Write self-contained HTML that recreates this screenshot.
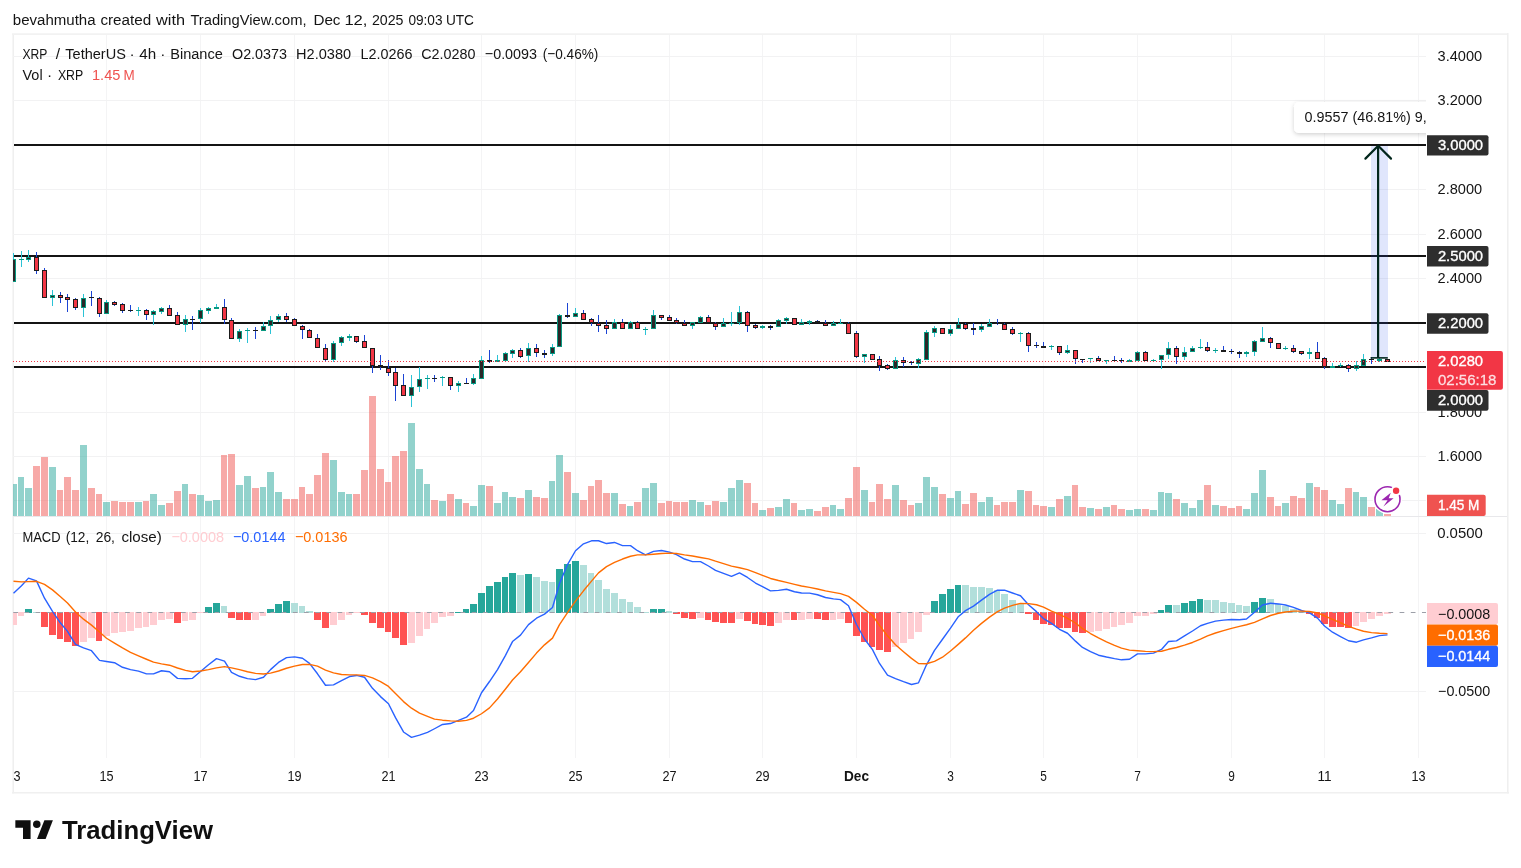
<!DOCTYPE html>
<html><head><meta charset="utf-8"><title>XRP / TetherUS chart</title>
<style>html,body{margin:0;padding:0;background:#fff}body{width:1521px;height:868px;overflow:hidden}
svg{display:block;opacity:0.999}text{font-family:"Liberation Sans",Arial,sans-serif;white-space:pre}</style></head>
<body><svg width="1521" height="868" viewBox="0 0 1521 868">
<rect width="1521" height="868" fill="#fff"/>
<rect x="12" y="33" width="1" height="760.7" fill="#f6f6f6"/><rect x="13" y="33" width="1" height="760.7" fill="#efefef"/><rect x="12" y="33" width="1497" height="1" fill="#f5f5f5"/><rect x="12" y="34" width="1497" height="1" fill="#f2f2f2"/><rect x="1507" y="33" width="1" height="760.7" fill="#efefef"/><rect x="1508" y="33" width="1" height="760.7" fill="#f6f6f6"/><rect x="12" y="792" width="1497" height="1" fill="#f0f0f0"/><rect x="12" y="793" width="1497" height="0.7" fill="#f4f4f4"/><g id="grid"><rect x="106" y="35" width="1" height="723" fill="#f4f4f5" shape-rendering="crispEdges"/><rect x="200" y="35" width="1" height="723" fill="#f4f4f5" shape-rendering="crispEdges"/><rect x="294" y="35" width="1" height="723" fill="#f4f4f5" shape-rendering="crispEdges"/><rect x="388" y="35" width="1" height="723" fill="#f4f4f5" shape-rendering="crispEdges"/><rect x="481" y="35" width="1" height="723" fill="#f4f4f5" shape-rendering="crispEdges"/><rect x="575" y="35" width="1" height="723" fill="#f4f4f5" shape-rendering="crispEdges"/><rect x="669" y="35" width="1" height="723" fill="#f4f4f5" shape-rendering="crispEdges"/><rect x="762" y="35" width="1" height="723" fill="#f4f4f5" shape-rendering="crispEdges"/><rect x="856" y="35" width="1" height="723" fill="#f4f4f5" shape-rendering="crispEdges"/><rect x="950" y="35" width="1" height="723" fill="#f4f4f5" shape-rendering="crispEdges"/><rect x="1043" y="35" width="1" height="723" fill="#f4f4f5" shape-rendering="crispEdges"/><rect x="1137" y="35" width="1" height="723" fill="#f4f4f5" shape-rendering="crispEdges"/><rect x="1231" y="35" width="1" height="723" fill="#f4f4f5" shape-rendering="crispEdges"/><rect x="1324" y="35" width="1" height="723" fill="#f4f4f5" shape-rendering="crispEdges"/><rect x="1418" y="35" width="1" height="723" fill="#f4f4f5" shape-rendering="crispEdges"/><rect x="13" y="56" width="1413" height="1" fill="#f2f2f3" shape-rendering="crispEdges"/><rect x="13" y="100" width="1413" height="1" fill="#f2f2f3" shape-rendering="crispEdges"/><rect x="13" y="144" width="1413" height="1" fill="#f2f2f3" shape-rendering="crispEdges"/><rect x="13" y="189" width="1413" height="1" fill="#f2f2f3" shape-rendering="crispEdges"/><rect x="13" y="234" width="1413" height="1" fill="#f2f2f3" shape-rendering="crispEdges"/><rect x="13" y="278" width="1413" height="1" fill="#f2f2f3" shape-rendering="crispEdges"/><rect x="13" y="322" width="1413" height="1" fill="#f2f2f3" shape-rendering="crispEdges"/><rect x="13" y="367" width="1413" height="1" fill="#f2f2f3" shape-rendering="crispEdges"/><rect x="13" y="412" width="1413" height="1" fill="#f2f2f3" shape-rendering="crispEdges"/><rect x="13" y="456" width="1413" height="1" fill="#f2f2f3" shape-rendering="crispEdges"/><rect x="13" y="500" width="1413" height="1" fill="#f2f2f3" shape-rendering="crispEdges"/><rect x="13" y="533" width="1413" height="1" fill="#f2f2f3" shape-rendering="crispEdges"/><rect x="13" y="691" width="1413" height="1" fill="#f2f2f3" shape-rendering="crispEdges"/></g><rect x="13" y="516" width="1494" height="1" fill="#e8e8eb" shape-rendering="crispEdges"/><g id="vol"><g shape-rendering="crispEdges" fill-opacity="0.5"><rect x="13" y="484" width="4" height="32" fill="#26a69a"/><rect x="18" y="477" width="6" height="39" fill="#26a69a"/><rect x="25" y="488" width="7" height="28" fill="#26a69a"/><rect x="33" y="466" width="7" height="50" fill="#ef5350"/><rect x="41" y="457" width="7" height="59" fill="#ef5350"/><rect x="49" y="467" width="7" height="49" fill="#26a69a"/><rect x="57" y="490" width="6" height="26" fill="#ef5350"/><rect x="64" y="477" width="7" height="39" fill="#ef5350"/><rect x="72" y="490" width="7" height="26" fill="#ef5350"/><rect x="80" y="445" width="7" height="71" fill="#26a69a"/><rect x="88" y="488" width="7" height="28" fill="#ef5350"/><rect x="96" y="494" width="6" height="22" fill="#ef5350"/><rect x="103" y="502" width="7" height="14" fill="#26a69a"/><rect x="111" y="501" width="7" height="15" fill="#ef5350"/><rect x="119" y="502" width="7" height="14" fill="#ef5350"/><rect x="127" y="502" width="7" height="14" fill="#ef5350"/><rect x="135" y="502" width="7" height="14" fill="#26a69a"/><rect x="143" y="501" width="6" height="15" fill="#ef5350"/><rect x="150" y="494" width="7" height="22" fill="#26a69a"/><rect x="158" y="505" width="7" height="11" fill="#26a69a"/><rect x="166" y="503" width="7" height="13" fill="#ef5350"/><rect x="174" y="491" width="7" height="25" fill="#ef5350"/><rect x="182" y="484" width="6" height="32" fill="#26a69a"/><rect x="189" y="494" width="7" height="22" fill="#ef5350"/><rect x="197" y="495" width="7" height="21" fill="#26a69a"/><rect x="205" y="501" width="7" height="15" fill="#26a69a"/><rect x="213" y="500" width="7" height="16" fill="#26a69a"/><rect x="221" y="455" width="6" height="61" fill="#ef5350"/><rect x="228" y="454" width="7" height="62" fill="#ef5350"/><rect x="236" y="485" width="7" height="31" fill="#26a69a"/><rect x="244" y="476" width="7" height="40" fill="#26a69a"/><rect x="252" y="488" width="7" height="28" fill="#ef5350"/><rect x="260" y="487" width="6" height="29" fill="#26a69a"/><rect x="267" y="472" width="7" height="44" fill="#26a69a"/><rect x="275" y="492" width="7" height="24" fill="#26a69a"/><rect x="283" y="499" width="7" height="17" fill="#ef5350"/><rect x="291" y="499" width="7" height="17" fill="#ef5350"/><rect x="299" y="487" width="6" height="29" fill="#ef5350"/><rect x="306" y="494" width="7" height="22" fill="#ef5350"/><rect x="314" y="475" width="7" height="41" fill="#ef5350"/><rect x="322" y="453" width="7" height="63" fill="#ef5350"/><rect x="330" y="460" width="7" height="56" fill="#26a69a"/><rect x="338" y="492" width="7" height="24" fill="#26a69a"/><rect x="346" y="494" width="6" height="22" fill="#26a69a"/><rect x="353" y="494" width="7" height="22" fill="#ef5350"/><rect x="361" y="470" width="7" height="46" fill="#ef5350"/><rect x="369" y="396" width="7" height="120" fill="#ef5350"/><rect x="377" y="469" width="7" height="47" fill="#ef5350"/><rect x="385" y="482" width="6" height="34" fill="#ef5350"/><rect x="392" y="456" width="7" height="60" fill="#ef5350"/><rect x="400" y="451" width="7" height="65" fill="#ef5350"/><rect x="408" y="423" width="7" height="93" fill="#26a69a"/><rect x="416" y="469" width="7" height="47" fill="#26a69a"/><rect x="424" y="484" width="6" height="32" fill="#26a69a"/><rect x="431" y="500" width="7" height="16" fill="#ef5350"/><rect x="439" y="501" width="7" height="15" fill="#26a69a"/><rect x="447" y="494" width="7" height="22" fill="#ef5350"/><rect x="455" y="499" width="7" height="17" fill="#26a69a"/><rect x="463" y="503" width="6" height="13" fill="#ef5350"/><rect x="470" y="506" width="7" height="10" fill="#26a69a"/><rect x="478" y="485" width="7" height="31" fill="#26a69a"/><rect x="486" y="486" width="7" height="30" fill="#ef5350"/><rect x="494" y="503" width="7" height="13" fill="#26a69a"/><rect x="502" y="492" width="6" height="24" fill="#26a69a"/><rect x="509" y="497" width="7" height="19" fill="#26a69a"/><rect x="517" y="498" width="7" height="18" fill="#ef5350"/><rect x="525" y="490" width="7" height="26" fill="#26a69a"/><rect x="533" y="497" width="7" height="19" fill="#ef5350"/><rect x="541" y="498" width="7" height="18" fill="#ef5350"/><rect x="549" y="481" width="6" height="35" fill="#26a69a"/><rect x="556" y="455" width="7" height="61" fill="#26a69a"/><rect x="564" y="472" width="7" height="44" fill="#ef5350"/><rect x="572" y="493" width="7" height="23" fill="#26a69a"/><rect x="580" y="500" width="7" height="16" fill="#ef5350"/><rect x="588" y="486" width="6" height="30" fill="#ef5350"/><rect x="595" y="480" width="7" height="36" fill="#ef5350"/><rect x="603" y="493" width="7" height="23" fill="#ef5350"/><rect x="611" y="493" width="7" height="23" fill="#26a69a"/><rect x="619" y="504" width="7" height="12" fill="#ef5350"/><rect x="627" y="506" width="6" height="10" fill="#26a69a"/><rect x="634" y="502" width="7" height="14" fill="#ef5350"/><rect x="642" y="488" width="7" height="28" fill="#26a69a"/><rect x="650" y="483" width="7" height="33" fill="#26a69a"/><rect x="658" y="503" width="7" height="13" fill="#ef5350"/><rect x="666" y="501" width="6" height="15" fill="#ef5350"/><rect x="673" y="502" width="7" height="14" fill="#ef5350"/><rect x="681" y="502" width="7" height="14" fill="#ef5350"/><rect x="689" y="500" width="7" height="16" fill="#26a69a"/><rect x="697" y="502" width="7" height="14" fill="#26a69a"/><rect x="705" y="505" width="6" height="11" fill="#ef5350"/><rect x="712" y="501" width="7" height="15" fill="#ef5350"/><rect x="720" y="502" width="7" height="14" fill="#26a69a"/><rect x="728" y="488" width="7" height="28" fill="#26a69a"/><rect x="736" y="480" width="7" height="36" fill="#26a69a"/><rect x="744" y="483" width="7" height="33" fill="#ef5350"/><rect x="752" y="503" width="6" height="13" fill="#ef5350"/><rect x="759" y="510" width="7" height="6" fill="#26a69a"/><rect x="767" y="508" width="7" height="8" fill="#ef5350"/><rect x="775" y="507" width="7" height="9" fill="#26a69a"/><rect x="783" y="499" width="7" height="17" fill="#26a69a"/><rect x="791" y="503" width="6" height="13" fill="#ef5350"/><rect x="798" y="510" width="7" height="6" fill="#26a69a"/><rect x="806" y="509" width="7" height="7" fill="#26a69a"/><rect x="814" y="511" width="7" height="5" fill="#ef5350"/><rect x="822" y="507" width="7" height="9" fill="#ef5350"/><rect x="830" y="505" width="6" height="11" fill="#26a69a"/><rect x="837" y="509" width="7" height="7" fill="#26a69a"/><rect x="845" y="498" width="7" height="18" fill="#ef5350"/><rect x="853" y="467" width="7" height="49" fill="#ef5350"/><rect x="861" y="490" width="7" height="26" fill="#26a69a"/><rect x="869" y="502" width="6" height="14" fill="#ef5350"/><rect x="876" y="484" width="7" height="32" fill="#ef5350"/><rect x="884" y="499" width="7" height="17" fill="#ef5350"/><rect x="892" y="485" width="7" height="31" fill="#26a69a"/><rect x="900" y="500" width="7" height="16" fill="#ef5350"/><rect x="908" y="505" width="6" height="11" fill="#ef5350"/><rect x="915" y="503" width="7" height="13" fill="#26a69a"/><rect x="923" y="477" width="7" height="39" fill="#26a69a"/><rect x="931" y="487" width="7" height="29" fill="#26a69a"/><rect x="939" y="494" width="7" height="22" fill="#ef5350"/><rect x="947" y="498" width="7" height="18" fill="#26a69a"/><rect x="955" y="491" width="6" height="25" fill="#26a69a"/><rect x="962" y="504" width="7" height="12" fill="#ef5350"/><rect x="970" y="493" width="7" height="23" fill="#ef5350"/><rect x="978" y="502" width="7" height="14" fill="#26a69a"/><rect x="986" y="497" width="7" height="19" fill="#26a69a"/><rect x="994" y="505" width="6" height="11" fill="#ef5350"/><rect x="1001" y="502" width="7" height="14" fill="#ef5350"/><rect x="1009" y="502" width="7" height="14" fill="#ef5350"/><rect x="1017" y="490" width="7" height="26" fill="#26a69a"/><rect x="1025" y="491" width="7" height="25" fill="#ef5350"/><rect x="1033" y="505" width="6" height="11" fill="#ef5350"/><rect x="1040" y="506" width="7" height="10" fill="#ef5350"/><rect x="1048" y="507" width="7" height="9" fill="#26a69a"/><rect x="1056" y="499" width="7" height="17" fill="#ef5350"/><rect x="1064" y="496" width="7" height="20" fill="#26a69a"/><rect x="1072" y="485" width="6" height="31" fill="#ef5350"/><rect x="1079" y="507" width="7" height="9" fill="#ef5350"/><rect x="1087" y="508" width="7" height="8" fill="#26a69a"/><rect x="1095" y="509" width="7" height="7" fill="#ef5350"/><rect x="1103" y="507" width="7" height="9" fill="#26a69a"/><rect x="1111" y="505" width="6" height="11" fill="#ef5350"/><rect x="1118" y="509" width="7" height="7" fill="#ef5350"/><rect x="1126" y="510" width="7" height="6" fill="#26a69a"/><rect x="1134" y="509" width="7" height="7" fill="#26a69a"/><rect x="1142" y="509" width="7" height="7" fill="#ef5350"/><rect x="1150" y="510" width="7" height="6" fill="#26a69a"/><rect x="1158" y="492" width="6" height="24" fill="#26a69a"/><rect x="1165" y="493" width="7" height="23" fill="#26a69a"/><rect x="1173" y="499" width="7" height="17" fill="#ef5350"/><rect x="1181" y="503" width="7" height="13" fill="#26a69a"/><rect x="1189" y="508" width="7" height="8" fill="#26a69a"/><rect x="1197" y="500" width="6" height="16" fill="#26a69a"/><rect x="1204" y="485" width="7" height="31" fill="#ef5350"/><rect x="1212" y="505" width="7" height="11" fill="#26a69a"/><rect x="1220" y="506" width="7" height="10" fill="#ef5350"/><rect x="1228" y="508" width="7" height="8" fill="#ef5350"/><rect x="1236" y="506" width="6" height="10" fill="#ef5350"/><rect x="1243" y="509" width="7" height="7" fill="#26a69a"/><rect x="1251" y="493" width="7" height="23" fill="#26a69a"/><rect x="1259" y="470" width="7" height="46" fill="#26a69a"/><rect x="1267" y="497" width="7" height="19" fill="#ef5350"/><rect x="1275" y="506" width="6" height="10" fill="#ef5350"/><rect x="1282" y="503" width="7" height="13" fill="#26a69a"/><rect x="1290" y="496" width="7" height="20" fill="#ef5350"/><rect x="1298" y="498" width="7" height="18" fill="#ef5350"/><rect x="1306" y="483" width="7" height="33" fill="#26a69a"/><rect x="1314" y="487" width="6" height="29" fill="#ef5350"/><rect x="1321" y="490" width="7" height="26" fill="#ef5350"/><rect x="1329" y="500" width="7" height="16" fill="#26a69a"/><rect x="1337" y="504" width="7" height="12" fill="#26a69a"/><rect x="1345" y="488" width="7" height="28" fill="#ef5350"/><rect x="1353" y="492" width="6" height="24" fill="#26a69a"/><rect x="1360" y="497" width="7" height="19" fill="#26a69a"/><rect x="1368" y="507" width="7" height="9" fill="#ef5350"/><rect x="1376" y="509" width="7" height="7" fill="#26a69a"/><rect x="1384" y="514" width="7" height="2" fill="#ef5350"/></g></g><rect x="14" y="144" width="1412" height="2" fill="#141414" shape-rendering="crispEdges"/><rect x="14" y="255" width="1412" height="2" fill="#141414" shape-rendering="crispEdges"/><rect x="14" y="322" width="1412" height="2" fill="#141414" shape-rendering="crispEdges"/><rect x="14" y="366" width="1412" height="2" fill="#141414" shape-rendering="crispEdges"/><g id="candles"><clipPath id="cc"><rect x="13" y="35" width="1413" height="482"/></clipPath><g clip-path="url(#cc)" shape-rendering="crispEdges"><rect x="13" y="253" width="1" height="6" fill="#2bc3d6"/><rect x="11" y="259" width="5" height="23" fill="#089981"/><rect x="12" y="260" width="3" height="21" fill="#2b2728"/><rect x="21" y="251" width="1" height="8" fill="#2bc3d6"/><rect x="21" y="260" width="1" height="7" fill="#2bc3d6"/><rect x="19" y="259" width="5" height="1" fill="#089981"/><rect x="28" y="250" width="1" height="7" fill="#2bc3d6"/><rect x="28" y="260" width="1" height="2" fill="#2bc3d6"/><rect x="26" y="257" width="5" height="3" fill="#089981"/><rect x="27" y="258" width="3" height="1" fill="#2b2728"/><rect x="36" y="252" width="1" height="5" fill="#1c44d4"/><rect x="36" y="271" width="1" height="3" fill="#1c44d4"/><rect x="34" y="257" width="5" height="14" fill="#1c1c1c"/><rect x="35" y="258" width="3" height="12" fill="#f23645"/><rect x="44" y="268" width="1" height="2" fill="#1c44d4"/><rect x="42" y="270" width="5" height="28" fill="#1c1c1c"/><rect x="43" y="271" width="3" height="26" fill="#f23645"/><rect x="52" y="290" width="1" height="5" fill="#2bc3d6"/><rect x="52" y="298" width="1" height="8" fill="#2bc3d6"/><rect x="50" y="295" width="5" height="3" fill="#089981"/><rect x="51" y="296" width="3" height="1" fill="#2b2728"/><rect x="60" y="292" width="1" height="3" fill="#1c44d4"/><rect x="60" y="298" width="1" height="5" fill="#1c44d4"/><rect x="58" y="295" width="5" height="3" fill="#1c1c1c"/><rect x="59" y="296" width="3" height="1" fill="#f23645"/><rect x="67" y="294" width="1" height="3" fill="#1c44d4"/><rect x="67" y="300" width="1" height="12" fill="#1c44d4"/><rect x="65" y="297" width="5" height="3" fill="#1c1c1c"/><rect x="66" y="298" width="3" height="1" fill="#f23645"/><rect x="75" y="298" width="1" height="1" fill="#1c44d4"/><rect x="75" y="308" width="1" height="2" fill="#1c44d4"/><rect x="73" y="299" width="5" height="9" fill="#1c1c1c"/><rect x="74" y="300" width="3" height="7" fill="#f23645"/><rect x="83" y="294" width="1" height="4" fill="#2bc3d6"/><rect x="83" y="308" width="1" height="9" fill="#2bc3d6"/><rect x="81" y="298" width="5" height="10" fill="#089981"/><rect x="82" y="299" width="3" height="8" fill="#2b2728"/><rect x="91" y="291" width="1" height="6" fill="#1c44d4"/><rect x="91" y="298" width="1" height="8" fill="#1c44d4"/><rect x="89" y="297" width="5" height="1" fill="#1c1c1c"/><rect x="99" y="297" width="1" height="1" fill="#1c44d4"/><rect x="99" y="314" width="1" height="3" fill="#1c44d4"/><rect x="97" y="298" width="5" height="16" fill="#1c1c1c"/><rect x="98" y="299" width="3" height="14" fill="#f23645"/><rect x="106" y="300" width="1" height="2" fill="#2bc3d6"/><rect x="104" y="302" width="5" height="12" fill="#089981"/><rect x="105" y="303" width="3" height="10" fill="#2b2728"/><rect x="114" y="301" width="1" height="1" fill="#1c44d4"/><rect x="114" y="305" width="1" height="1" fill="#1c44d4"/><rect x="112" y="302" width="5" height="3" fill="#1c1c1c"/><rect x="113" y="303" width="3" height="1" fill="#f23645"/><rect x="122" y="303" width="1" height="1" fill="#1c44d4"/><rect x="122" y="311" width="1" height="2" fill="#1c44d4"/><rect x="120" y="304" width="5" height="7" fill="#1c1c1c"/><rect x="121" y="305" width="3" height="5" fill="#f23645"/><rect x="130" y="305" width="1" height="5" fill="#1c44d4"/><rect x="130" y="311" width="1" height="1" fill="#1c44d4"/><rect x="128" y="310" width="5" height="1" fill="#1c1c1c"/><rect x="138" y="307" width="1" height="3" fill="#2bc3d6"/><rect x="138" y="311" width="1" height="5" fill="#2bc3d6"/><rect x="136" y="310" width="5" height="1" fill="#089981"/><rect x="146" y="309" width="1" height="1" fill="#1c44d4"/><rect x="146" y="315" width="1" height="5" fill="#1c44d4"/><rect x="144" y="310" width="5" height="5" fill="#1c1c1c"/><rect x="145" y="311" width="3" height="3" fill="#f23645"/><rect x="153" y="310" width="1" height="1" fill="#2bc3d6"/><rect x="153" y="315" width="1" height="10" fill="#2bc3d6"/><rect x="151" y="311" width="5" height="4" fill="#089981"/><rect x="152" y="312" width="3" height="2" fill="#2b2728"/><rect x="161" y="307" width="1" height="1" fill="#2bc3d6"/><rect x="161" y="312" width="1" height="2" fill="#2bc3d6"/><rect x="159" y="308" width="5" height="4" fill="#089981"/><rect x="160" y="309" width="3" height="2" fill="#2b2728"/><rect x="169" y="305" width="1" height="3" fill="#1c44d4"/><rect x="167" y="308" width="5" height="8" fill="#1c1c1c"/><rect x="168" y="309" width="3" height="6" fill="#f23645"/><rect x="177" y="312" width="1" height="3" fill="#1c44d4"/><rect x="175" y="315" width="5" height="10" fill="#1c1c1c"/><rect x="176" y="316" width="3" height="8" fill="#f23645"/><rect x="185" y="315" width="1" height="4" fill="#2bc3d6"/><rect x="185" y="325" width="1" height="7" fill="#2bc3d6"/><rect x="183" y="319" width="5" height="6" fill="#089981"/><rect x="184" y="320" width="3" height="4" fill="#2b2728"/><rect x="192" y="316" width="1" height="3" fill="#1c44d4"/><rect x="192" y="320" width="1" height="10" fill="#1c44d4"/><rect x="190" y="319" width="5" height="1" fill="#1c1c1c"/><rect x="200" y="308" width="1" height="2" fill="#2bc3d6"/><rect x="200" y="319" width="1" height="4" fill="#2bc3d6"/><rect x="198" y="310" width="5" height="9" fill="#089981"/><rect x="199" y="311" width="3" height="7" fill="#2b2728"/><rect x="208" y="307" width="1" height="1" fill="#2bc3d6"/><rect x="208" y="311" width="1" height="3" fill="#2bc3d6"/><rect x="206" y="308" width="5" height="3" fill="#089981"/><rect x="207" y="309" width="3" height="1" fill="#2b2728"/><rect x="216" y="304" width="1" height="3" fill="#2bc3d6"/><rect x="214" y="307" width="5" height="2" fill="#089981"/><rect x="224" y="299" width="1" height="8" fill="#1c44d4"/><rect x="224" y="320" width="1" height="4" fill="#1c44d4"/><rect x="222" y="307" width="5" height="13" fill="#1c1c1c"/><rect x="223" y="308" width="3" height="11" fill="#f23645"/><rect x="231" y="318" width="1" height="2" fill="#1c44d4"/><rect x="229" y="320" width="5" height="19" fill="#1c1c1c"/><rect x="230" y="321" width="3" height="17" fill="#f23645"/><rect x="239" y="329" width="1" height="2" fill="#2bc3d6"/><rect x="239" y="339" width="1" height="3" fill="#2bc3d6"/><rect x="237" y="331" width="5" height="8" fill="#089981"/><rect x="238" y="332" width="3" height="6" fill="#2b2728"/><rect x="247" y="328" width="1" height="2" fill="#2bc3d6"/><rect x="247" y="331" width="1" height="12" fill="#2bc3d6"/><rect x="245" y="330" width="5" height="1" fill="#089981"/><rect x="255" y="327" width="1" height="3" fill="#1c44d4"/><rect x="255" y="331" width="1" height="8" fill="#1c44d4"/><rect x="253" y="330" width="5" height="1" fill="#1c1c1c"/><rect x="263" y="322" width="1" height="4" fill="#2bc3d6"/><rect x="261" y="326" width="5" height="5" fill="#089981"/><rect x="262" y="327" width="3" height="3" fill="#2b2728"/><rect x="270" y="316" width="1" height="4" fill="#2bc3d6"/><rect x="270" y="326" width="1" height="8" fill="#2bc3d6"/><rect x="268" y="320" width="5" height="6" fill="#089981"/><rect x="269" y="321" width="3" height="4" fill="#2b2728"/><rect x="278" y="314" width="1" height="2" fill="#2bc3d6"/><rect x="278" y="320" width="1" height="2" fill="#2bc3d6"/><rect x="276" y="316" width="5" height="4" fill="#089981"/><rect x="277" y="317" width="3" height="2" fill="#2b2728"/><rect x="286" y="313" width="1" height="3" fill="#1c44d4"/><rect x="286" y="320" width="1" height="2" fill="#1c44d4"/><rect x="284" y="316" width="5" height="4" fill="#1c1c1c"/><rect x="285" y="317" width="3" height="2" fill="#f23645"/><rect x="294" y="318" width="1" height="1" fill="#1c44d4"/><rect x="292" y="319" width="5" height="7" fill="#1c1c1c"/><rect x="293" y="320" width="3" height="5" fill="#f23645"/><rect x="302" y="325" width="1" height="1" fill="#1c44d4"/><rect x="302" y="330" width="1" height="9" fill="#1c44d4"/><rect x="300" y="326" width="5" height="4" fill="#1c1c1c"/><rect x="301" y="327" width="3" height="2" fill="#f23645"/><rect x="309" y="329" width="1" height="1" fill="#1c44d4"/><rect x="307" y="330" width="5" height="8" fill="#1c1c1c"/><rect x="308" y="331" width="3" height="6" fill="#f23645"/><rect x="317" y="334" width="1" height="4" fill="#1c44d4"/><rect x="315" y="338" width="5" height="10" fill="#1c1c1c"/><rect x="316" y="339" width="3" height="8" fill="#f23645"/><rect x="325" y="344" width="1" height="4" fill="#1c44d4"/><rect x="325" y="360" width="1" height="1" fill="#1c44d4"/><rect x="323" y="348" width="5" height="12" fill="#1c1c1c"/><rect x="324" y="349" width="3" height="10" fill="#f23645"/><rect x="333" y="341" width="1" height="2" fill="#2bc3d6"/><rect x="333" y="360" width="1" height="2" fill="#2bc3d6"/><rect x="331" y="343" width="5" height="17" fill="#089981"/><rect x="332" y="344" width="3" height="15" fill="#2b2728"/><rect x="341" y="336" width="1" height="1" fill="#2bc3d6"/><rect x="341" y="343" width="1" height="3" fill="#2bc3d6"/><rect x="339" y="337" width="5" height="6" fill="#089981"/><rect x="340" y="338" width="3" height="4" fill="#2b2728"/><rect x="349" y="334" width="1" height="2" fill="#2bc3d6"/><rect x="349" y="338" width="1" height="3" fill="#2bc3d6"/><rect x="347" y="336" width="5" height="2" fill="#089981"/><rect x="356" y="342" width="1" height="1" fill="#1c44d4"/><rect x="354" y="336" width="5" height="6" fill="#1c1c1c"/><rect x="355" y="337" width="3" height="4" fill="#f23645"/><rect x="364" y="335" width="1" height="6" fill="#1c44d4"/><rect x="362" y="341" width="5" height="7" fill="#1c1c1c"/><rect x="363" y="342" width="3" height="5" fill="#f23645"/><rect x="372" y="366" width="1" height="7" fill="#1c44d4"/><rect x="370" y="348" width="5" height="18" fill="#1c1c1c"/><rect x="371" y="349" width="3" height="16" fill="#f23645"/><rect x="380" y="355" width="1" height="10" fill="#1c44d4"/><rect x="380" y="367" width="1" height="3" fill="#1c44d4"/><rect x="378" y="365" width="5" height="2" fill="#1c1c1c"/><rect x="388" y="360" width="1" height="8" fill="#1c44d4"/><rect x="388" y="373" width="1" height="3" fill="#1c44d4"/><rect x="386" y="368" width="5" height="5" fill="#1c1c1c"/><rect x="387" y="369" width="3" height="3" fill="#f23645"/><rect x="395" y="368" width="1" height="4" fill="#1c44d4"/><rect x="395" y="386" width="1" height="15" fill="#1c44d4"/><rect x="393" y="372" width="5" height="14" fill="#1c1c1c"/><rect x="394" y="373" width="3" height="12" fill="#f23645"/><rect x="403" y="374" width="1" height="11" fill="#1c44d4"/><rect x="401" y="385" width="5" height="11" fill="#1c1c1c"/><rect x="402" y="386" width="3" height="9" fill="#f23645"/><rect x="411" y="375" width="1" height="12" fill="#2bc3d6"/><rect x="411" y="396" width="1" height="11" fill="#2bc3d6"/><rect x="409" y="387" width="5" height="9" fill="#089981"/><rect x="410" y="388" width="3" height="7" fill="#2b2728"/><rect x="419" y="367" width="1" height="12" fill="#2bc3d6"/><rect x="419" y="387" width="1" height="5" fill="#2bc3d6"/><rect x="417" y="379" width="5" height="8" fill="#089981"/><rect x="418" y="380" width="3" height="6" fill="#2b2728"/><rect x="427" y="375" width="1" height="3" fill="#2bc3d6"/><rect x="427" y="379" width="1" height="10" fill="#2bc3d6"/><rect x="425" y="378" width="5" height="1" fill="#089981"/><rect x="434" y="375" width="1" height="3" fill="#1c44d4"/><rect x="434" y="379" width="1" height="3" fill="#1c44d4"/><rect x="432" y="378" width="5" height="1" fill="#1c1c1c"/><rect x="442" y="376" width="1" height="1" fill="#2bc3d6"/><rect x="442" y="378" width="1" height="8" fill="#2bc3d6"/><rect x="440" y="377" width="5" height="1" fill="#089981"/><rect x="450" y="386" width="1" height="4" fill="#1c44d4"/><rect x="448" y="377" width="5" height="9" fill="#1c1c1c"/><rect x="449" y="378" width="3" height="7" fill="#f23645"/><rect x="458" y="381" width="1" height="2" fill="#2bc3d6"/><rect x="458" y="386" width="1" height="6" fill="#2bc3d6"/><rect x="456" y="383" width="5" height="3" fill="#089981"/><rect x="457" y="384" width="3" height="1" fill="#2b2728"/><rect x="466" y="378" width="1" height="5" fill="#1c44d4"/><rect x="464" y="383" width="5" height="1" fill="#1c1c1c"/><rect x="473" y="374" width="1" height="4" fill="#2bc3d6"/><rect x="473" y="384" width="1" height="1" fill="#2bc3d6"/><rect x="471" y="378" width="5" height="6" fill="#089981"/><rect x="472" y="379" width="3" height="4" fill="#2b2728"/><rect x="481" y="356" width="1" height="4" fill="#2bc3d6"/><rect x="479" y="360" width="5" height="19" fill="#089981"/><rect x="480" y="361" width="3" height="17" fill="#2b2728"/><rect x="489" y="350" width="1" height="10" fill="#1c44d4"/><rect x="489" y="362" width="1" height="1" fill="#1c44d4"/><rect x="487" y="360" width="5" height="2" fill="#1c1c1c"/><rect x="497" y="355" width="1" height="5" fill="#2bc3d6"/><rect x="495" y="360" width="5" height="2" fill="#089981"/><rect x="505" y="352" width="1" height="1" fill="#2bc3d6"/><rect x="503" y="353" width="5" height="8" fill="#089981"/><rect x="504" y="354" width="3" height="6" fill="#2b2728"/><rect x="512" y="349" width="1" height="1" fill="#2bc3d6"/><rect x="512" y="354" width="1" height="4" fill="#2bc3d6"/><rect x="510" y="350" width="5" height="4" fill="#089981"/><rect x="511" y="351" width="3" height="2" fill="#2b2728"/><rect x="520" y="348" width="1" height="2" fill="#1c44d4"/><rect x="520" y="357" width="1" height="1" fill="#1c44d4"/><rect x="518" y="350" width="5" height="7" fill="#1c1c1c"/><rect x="519" y="351" width="3" height="5" fill="#f23645"/><rect x="528" y="343" width="1" height="5" fill="#2bc3d6"/><rect x="528" y="356" width="1" height="6" fill="#2bc3d6"/><rect x="526" y="348" width="5" height="8" fill="#089981"/><rect x="527" y="349" width="3" height="6" fill="#2b2728"/><rect x="536" y="344" width="1" height="4" fill="#1c44d4"/><rect x="536" y="353" width="1" height="4" fill="#1c44d4"/><rect x="534" y="348" width="5" height="5" fill="#1c1c1c"/><rect x="535" y="349" width="3" height="3" fill="#f23645"/><rect x="544" y="350" width="1" height="3" fill="#1c44d4"/><rect x="544" y="355" width="1" height="3" fill="#1c44d4"/><rect x="542" y="353" width="5" height="2" fill="#1c1c1c"/><rect x="552" y="344" width="1" height="3" fill="#2bc3d6"/><rect x="552" y="354" width="1" height="2" fill="#2bc3d6"/><rect x="550" y="347" width="5" height="7" fill="#089981"/><rect x="551" y="348" width="3" height="5" fill="#2b2728"/><rect x="559" y="314" width="1" height="1" fill="#2bc3d6"/><rect x="557" y="315" width="5" height="32" fill="#089981"/><rect x="558" y="316" width="3" height="30" fill="#2b2728"/><rect x="567" y="303" width="1" height="12" fill="#1c44d4"/><rect x="567" y="317" width="1" height="1" fill="#1c44d4"/><rect x="565" y="315" width="5" height="2" fill="#1c1c1c"/><rect x="575" y="308" width="1" height="5" fill="#2bc3d6"/><rect x="573" y="313" width="5" height="4" fill="#089981"/><rect x="574" y="314" width="3" height="2" fill="#2b2728"/><rect x="583" y="310" width="1" height="3" fill="#1c44d4"/><rect x="581" y="313" width="5" height="7" fill="#1c1c1c"/><rect x="582" y="314" width="3" height="5" fill="#f23645"/><rect x="591" y="318" width="1" height="1" fill="#1c44d4"/><rect x="591" y="323" width="1" height="3" fill="#1c44d4"/><rect x="589" y="319" width="5" height="4" fill="#1c1c1c"/><rect x="590" y="320" width="3" height="2" fill="#f23645"/><rect x="598" y="315" width="1" height="8" fill="#1c44d4"/><rect x="598" y="326" width="1" height="6" fill="#1c44d4"/><rect x="596" y="323" width="5" height="3" fill="#1c1c1c"/><rect x="597" y="324" width="3" height="1" fill="#f23645"/><rect x="606" y="320" width="1" height="5" fill="#1c44d4"/><rect x="606" y="329" width="1" height="5" fill="#1c44d4"/><rect x="604" y="325" width="5" height="4" fill="#1c1c1c"/><rect x="605" y="326" width="3" height="2" fill="#f23645"/><rect x="614" y="319" width="1" height="3" fill="#2bc3d6"/><rect x="612" y="322" width="5" height="7" fill="#089981"/><rect x="613" y="323" width="3" height="5" fill="#2b2728"/><rect x="622" y="319" width="1" height="3" fill="#1c44d4"/><rect x="620" y="322" width="5" height="7" fill="#1c1c1c"/><rect x="621" y="323" width="3" height="5" fill="#f23645"/><rect x="630" y="321" width="1" height="1" fill="#2bc3d6"/><rect x="628" y="322" width="5" height="7" fill="#089981"/><rect x="629" y="323" width="3" height="5" fill="#2b2728"/><rect x="637" y="321" width="1" height="1" fill="#1c44d4"/><rect x="635" y="322" width="5" height="7" fill="#1c1c1c"/><rect x="636" y="323" width="3" height="5" fill="#f23645"/><rect x="645" y="327" width="1" height="2" fill="#2bc3d6"/><rect x="645" y="330" width="1" height="5" fill="#2bc3d6"/><rect x="643" y="329" width="5" height="1" fill="#089981"/><rect x="653" y="310" width="1" height="5" fill="#2bc3d6"/><rect x="651" y="315" width="5" height="14" fill="#089981"/><rect x="652" y="316" width="3" height="12" fill="#2b2728"/><rect x="661" y="318" width="1" height="2" fill="#1c44d4"/><rect x="659" y="315" width="5" height="3" fill="#1c1c1c"/><rect x="660" y="316" width="3" height="1" fill="#f23645"/><rect x="669" y="315" width="1" height="2" fill="#1c44d4"/><rect x="667" y="317" width="5" height="4" fill="#1c1c1c"/><rect x="668" y="318" width="3" height="2" fill="#f23645"/><rect x="676" y="318" width="1" height="2" fill="#1c44d4"/><rect x="676" y="323" width="1" height="1" fill="#1c44d4"/><rect x="674" y="320" width="5" height="3" fill="#1c1c1c"/><rect x="675" y="321" width="3" height="1" fill="#f23645"/><rect x="684" y="320" width="1" height="3" fill="#1c44d4"/><rect x="682" y="323" width="5" height="3" fill="#1c1c1c"/><rect x="683" y="324" width="3" height="1" fill="#f23645"/><rect x="692" y="326" width="1" height="3" fill="#2bc3d6"/><rect x="690" y="322" width="5" height="4" fill="#089981"/><rect x="691" y="323" width="3" height="2" fill="#2b2728"/><rect x="700" y="316" width="1" height="1" fill="#2bc3d6"/><rect x="698" y="317" width="5" height="6" fill="#089981"/><rect x="699" y="318" width="3" height="4" fill="#2b2728"/><rect x="708" y="315" width="1" height="2" fill="#1c44d4"/><rect x="706" y="317" width="5" height="6" fill="#1c1c1c"/><rect x="707" y="318" width="3" height="4" fill="#f23645"/><rect x="715" y="322" width="1" height="1" fill="#1c44d4"/><rect x="715" y="327" width="1" height="3" fill="#1c44d4"/><rect x="713" y="323" width="5" height="4" fill="#1c1c1c"/><rect x="714" y="324" width="3" height="2" fill="#f23645"/><rect x="723" y="318" width="1" height="5" fill="#2bc3d6"/><rect x="721" y="323" width="5" height="4" fill="#089981"/><rect x="722" y="324" width="3" height="2" fill="#2b2728"/><rect x="731" y="312" width="1" height="11" fill="#2bc3d6"/><rect x="731" y="324" width="1" height="2" fill="#2bc3d6"/><rect x="729" y="323" width="5" height="1" fill="#089981"/><rect x="739" y="306" width="1" height="6" fill="#2bc3d6"/><rect x="739" y="323" width="1" height="2" fill="#2bc3d6"/><rect x="737" y="312" width="5" height="11" fill="#089981"/><rect x="738" y="313" width="3" height="9" fill="#2b2728"/><rect x="747" y="311" width="1" height="1" fill="#1c44d4"/><rect x="747" y="326" width="1" height="6" fill="#1c44d4"/><rect x="745" y="312" width="5" height="14" fill="#1c1c1c"/><rect x="746" y="313" width="3" height="12" fill="#f23645"/><rect x="755" y="324" width="1" height="1" fill="#1c44d4"/><rect x="755" y="328" width="1" height="1" fill="#1c44d4"/><rect x="753" y="325" width="5" height="3" fill="#1c1c1c"/><rect x="754" y="326" width="3" height="1" fill="#f23645"/><rect x="762" y="325" width="1" height="1" fill="#2bc3d6"/><rect x="762" y="328" width="1" height="1" fill="#2bc3d6"/><rect x="760" y="326" width="5" height="2" fill="#089981"/><rect x="770" y="325" width="1" height="1" fill="#1c44d4"/><rect x="770" y="328" width="1" height="2" fill="#1c44d4"/><rect x="768" y="326" width="5" height="2" fill="#1c1c1c"/><rect x="778" y="319" width="1" height="1" fill="#2bc3d6"/><rect x="776" y="320" width="5" height="7" fill="#089981"/><rect x="777" y="321" width="3" height="5" fill="#2b2728"/><rect x="786" y="317" width="1" height="1" fill="#2bc3d6"/><rect x="786" y="321" width="1" height="3" fill="#2bc3d6"/><rect x="784" y="318" width="5" height="3" fill="#089981"/><rect x="785" y="319" width="3" height="1" fill="#2b2728"/><rect x="792" y="318" width="5" height="7" fill="#1c1c1c"/><rect x="793" y="319" width="3" height="5" fill="#f23645"/><rect x="801" y="319" width="1" height="3" fill="#2bc3d6"/><rect x="799" y="322" width="5" height="3" fill="#089981"/><rect x="800" y="323" width="3" height="1" fill="#2b2728"/><rect x="809" y="320" width="1" height="1" fill="#2bc3d6"/><rect x="809" y="323" width="1" height="2" fill="#2bc3d6"/><rect x="807" y="321" width="5" height="2" fill="#089981"/><rect x="817" y="320" width="1" height="1" fill="#1c44d4"/><rect x="815" y="321" width="5" height="2" fill="#1c1c1c"/><rect x="825" y="320" width="1" height="3" fill="#1c44d4"/><rect x="823" y="323" width="5" height="3" fill="#1c1c1c"/><rect x="824" y="324" width="3" height="1" fill="#f23645"/><rect x="833" y="321" width="1" height="2" fill="#2bc3d6"/><rect x="831" y="323" width="5" height="3" fill="#089981"/><rect x="832" y="324" width="3" height="1" fill="#2b2728"/><rect x="840" y="319" width="1" height="4" fill="#2bc3d6"/><rect x="838" y="323" width="5" height="1" fill="#089981"/><rect x="848" y="322" width="1" height="1" fill="#1c44d4"/><rect x="846" y="323" width="5" height="11" fill="#1c1c1c"/><rect x="847" y="324" width="3" height="9" fill="#f23645"/><rect x="856" y="331" width="1" height="2" fill="#1c44d4"/><rect x="856" y="357" width="1" height="1" fill="#1c44d4"/><rect x="854" y="333" width="5" height="24" fill="#1c1c1c"/><rect x="855" y="334" width="3" height="22" fill="#f23645"/><rect x="864" y="357" width="1" height="6" fill="#2bc3d6"/><rect x="862" y="354" width="5" height="3" fill="#089981"/><rect x="863" y="355" width="3" height="1" fill="#2b2728"/><rect x="870" y="354" width="5" height="6" fill="#1c1c1c"/><rect x="871" y="355" width="3" height="4" fill="#f23645"/><rect x="879" y="356" width="1" height="3" fill="#1c44d4"/><rect x="879" y="366" width="1" height="5" fill="#1c44d4"/><rect x="877" y="359" width="5" height="7" fill="#1c1c1c"/><rect x="878" y="360" width="3" height="5" fill="#f23645"/><rect x="887" y="364" width="1" height="1" fill="#1c44d4"/><rect x="887" y="369" width="1" height="1" fill="#1c44d4"/><rect x="885" y="365" width="5" height="4" fill="#1c1c1c"/><rect x="886" y="366" width="3" height="2" fill="#f23645"/><rect x="895" y="357" width="1" height="3" fill="#2bc3d6"/><rect x="893" y="360" width="5" height="9" fill="#089981"/><rect x="894" y="361" width="3" height="7" fill="#2b2728"/><rect x="903" y="357" width="1" height="3" fill="#1c44d4"/><rect x="903" y="363" width="1" height="4" fill="#1c44d4"/><rect x="901" y="360" width="5" height="3" fill="#1c1c1c"/><rect x="902" y="361" width="3" height="1" fill="#f23645"/><rect x="911" y="361" width="1" height="1" fill="#1c44d4"/><rect x="911" y="363" width="1" height="2" fill="#1c44d4"/><rect x="909" y="362" width="5" height="1" fill="#1c1c1c"/><rect x="918" y="358" width="1" height="1" fill="#2bc3d6"/><rect x="918" y="364" width="1" height="4" fill="#2bc3d6"/><rect x="916" y="359" width="5" height="5" fill="#089981"/><rect x="917" y="360" width="3" height="3" fill="#2b2728"/><rect x="926" y="330" width="1" height="2" fill="#2bc3d6"/><rect x="924" y="332" width="5" height="28" fill="#089981"/><rect x="925" y="333" width="3" height="26" fill="#2b2728"/><rect x="934" y="326" width="1" height="2" fill="#2bc3d6"/><rect x="934" y="333" width="1" height="4" fill="#2bc3d6"/><rect x="932" y="328" width="5" height="5" fill="#089981"/><rect x="933" y="329" width="3" height="3" fill="#2b2728"/><rect x="940" y="328" width="5" height="6" fill="#1c1c1c"/><rect x="941" y="329" width="3" height="4" fill="#f23645"/><rect x="950" y="325" width="1" height="4" fill="#2bc3d6"/><rect x="950" y="334" width="1" height="2" fill="#2bc3d6"/><rect x="948" y="329" width="5" height="5" fill="#089981"/><rect x="949" y="330" width="3" height="3" fill="#2b2728"/><rect x="958" y="318" width="1" height="6" fill="#2bc3d6"/><rect x="956" y="324" width="5" height="5" fill="#089981"/><rect x="957" y="325" width="3" height="3" fill="#2b2728"/><rect x="965" y="323" width="1" height="1" fill="#1c44d4"/><rect x="965" y="329" width="1" height="1" fill="#1c44d4"/><rect x="963" y="324" width="5" height="5" fill="#1c1c1c"/><rect x="964" y="325" width="3" height="3" fill="#f23645"/><rect x="973" y="323" width="1" height="5" fill="#1c44d4"/><rect x="973" y="330" width="1" height="5" fill="#1c44d4"/><rect x="971" y="328" width="5" height="2" fill="#1c1c1c"/><rect x="981" y="324" width="1" height="2" fill="#2bc3d6"/><rect x="981" y="330" width="1" height="2" fill="#2bc3d6"/><rect x="979" y="326" width="5" height="4" fill="#089981"/><rect x="980" y="327" width="3" height="2" fill="#2b2728"/><rect x="989" y="319" width="1" height="4" fill="#2bc3d6"/><rect x="987" y="323" width="5" height="4" fill="#089981"/><rect x="988" y="324" width="3" height="2" fill="#2b2728"/><rect x="997" y="319" width="1" height="4" fill="#1c44d4"/><rect x="997" y="324" width="1" height="1" fill="#1c44d4"/><rect x="995" y="323" width="5" height="1" fill="#1c1c1c"/><rect x="1004" y="323" width="1" height="1" fill="#1c44d4"/><rect x="1002" y="324" width="5" height="6" fill="#1c1c1c"/><rect x="1003" y="325" width="3" height="4" fill="#f23645"/><rect x="1012" y="327" width="1" height="2" fill="#1c44d4"/><rect x="1012" y="334" width="1" height="1" fill="#1c44d4"/><rect x="1010" y="329" width="5" height="5" fill="#1c1c1c"/><rect x="1011" y="330" width="3" height="3" fill="#f23645"/><rect x="1020" y="332" width="1" height="1" fill="#2bc3d6"/><rect x="1020" y="334" width="1" height="8" fill="#2bc3d6"/><rect x="1018" y="333" width="5" height="1" fill="#089981"/><rect x="1028" y="332" width="1" height="1" fill="#1c44d4"/><rect x="1028" y="346" width="1" height="6" fill="#1c44d4"/><rect x="1026" y="333" width="5" height="13" fill="#1c1c1c"/><rect x="1027" y="334" width="3" height="11" fill="#f23645"/><rect x="1036" y="342" width="1" height="3" fill="#1c44d4"/><rect x="1036" y="346" width="1" height="2" fill="#1c44d4"/><rect x="1034" y="345" width="5" height="1" fill="#1c1c1c"/><rect x="1043" y="342" width="1" height="4" fill="#1c44d4"/><rect x="1041" y="346" width="5" height="2" fill="#1c1c1c"/><rect x="1051" y="345" width="1" height="1" fill="#2bc3d6"/><rect x="1051" y="347" width="1" height="3" fill="#2bc3d6"/><rect x="1049" y="346" width="5" height="1" fill="#089981"/><rect x="1059" y="353" width="1" height="2" fill="#1c44d4"/><rect x="1057" y="346" width="5" height="7" fill="#1c1c1c"/><rect x="1058" y="347" width="3" height="5" fill="#f23645"/><rect x="1067" y="345" width="1" height="5" fill="#2bc3d6"/><rect x="1067" y="353" width="1" height="1" fill="#2bc3d6"/><rect x="1065" y="350" width="5" height="3" fill="#089981"/><rect x="1066" y="351" width="3" height="1" fill="#2b2728"/><rect x="1075" y="359" width="1" height="5" fill="#1c44d4"/><rect x="1073" y="350" width="5" height="9" fill="#1c1c1c"/><rect x="1074" y="351" width="3" height="7" fill="#f23645"/><rect x="1082" y="360" width="1" height="3" fill="#1c44d4"/><rect x="1080" y="359" width="5" height="1" fill="#1c1c1c"/><rect x="1090" y="359" width="1" height="4" fill="#2bc3d6"/><rect x="1088" y="358" width="5" height="1" fill="#089981"/><rect x="1098" y="356" width="1" height="2" fill="#1c44d4"/><rect x="1096" y="358" width="5" height="3" fill="#1c1c1c"/><rect x="1097" y="359" width="3" height="1" fill="#f23645"/><rect x="1106" y="361" width="1" height="3" fill="#2bc3d6"/><rect x="1104" y="360" width="5" height="1" fill="#089981"/><rect x="1114" y="356" width="1" height="4" fill="#1c44d4"/><rect x="1112" y="360" width="5" height="1" fill="#1c1c1c"/><rect x="1121" y="358" width="1" height="2" fill="#1c44d4"/><rect x="1121" y="361" width="1" height="2" fill="#1c44d4"/><rect x="1119" y="360" width="5" height="1" fill="#1c1c1c"/><rect x="1129" y="359" width="1" height="1" fill="#2bc3d6"/><rect x="1127" y="360" width="5" height="2" fill="#089981"/><rect x="1137" y="351" width="1" height="1" fill="#2bc3d6"/><rect x="1135" y="352" width="5" height="9" fill="#089981"/><rect x="1136" y="353" width="3" height="7" fill="#2b2728"/><rect x="1145" y="351" width="1" height="1" fill="#1c44d4"/><rect x="1143" y="352" width="5" height="9" fill="#1c1c1c"/><rect x="1144" y="353" width="3" height="7" fill="#f23645"/><rect x="1153" y="359" width="1" height="1" fill="#2bc3d6"/><rect x="1151" y="360" width="5" height="1" fill="#089981"/><rect x="1161" y="360" width="1" height="9" fill="#2bc3d6"/><rect x="1159" y="355" width="5" height="5" fill="#089981"/><rect x="1160" y="356" width="3" height="3" fill="#2b2728"/><rect x="1168" y="342" width="1" height="6" fill="#2bc3d6"/><rect x="1168" y="355" width="1" height="4" fill="#2bc3d6"/><rect x="1166" y="348" width="5" height="7" fill="#089981"/><rect x="1167" y="349" width="3" height="5" fill="#2b2728"/><rect x="1176" y="346" width="1" height="2" fill="#1c44d4"/><rect x="1176" y="357" width="1" height="7" fill="#1c44d4"/><rect x="1174" y="348" width="5" height="9" fill="#1c1c1c"/><rect x="1175" y="349" width="3" height="7" fill="#f23645"/><rect x="1184" y="347" width="1" height="5" fill="#2bc3d6"/><rect x="1184" y="357" width="1" height="3" fill="#2bc3d6"/><rect x="1182" y="352" width="5" height="5" fill="#089981"/><rect x="1183" y="353" width="3" height="3" fill="#2b2728"/><rect x="1192" y="346" width="1" height="2" fill="#2bc3d6"/><rect x="1190" y="348" width="5" height="4" fill="#089981"/><rect x="1191" y="349" width="3" height="2" fill="#2b2728"/><rect x="1200" y="339" width="1" height="8" fill="#2bc3d6"/><rect x="1200" y="348" width="1" height="1" fill="#2bc3d6"/><rect x="1198" y="347" width="5" height="1" fill="#089981"/><rect x="1207" y="342" width="1" height="5" fill="#1c44d4"/><rect x="1207" y="351" width="1" height="1" fill="#1c44d4"/><rect x="1205" y="347" width="5" height="4" fill="#1c1c1c"/><rect x="1206" y="348" width="3" height="2" fill="#f23645"/><rect x="1215" y="348" width="1" height="2" fill="#2bc3d6"/><rect x="1215" y="351" width="1" height="2" fill="#2bc3d6"/><rect x="1213" y="350" width="5" height="1" fill="#089981"/><rect x="1223" y="346" width="1" height="4" fill="#1c44d4"/><rect x="1221" y="350" width="5" height="2" fill="#1c1c1c"/><rect x="1231" y="349" width="1" height="2" fill="#1c44d4"/><rect x="1231" y="352" width="1" height="2" fill="#1c44d4"/><rect x="1229" y="351" width="5" height="1" fill="#1c1c1c"/><rect x="1239" y="351" width="1" height="1" fill="#1c44d4"/><rect x="1239" y="354" width="1" height="4" fill="#1c44d4"/><rect x="1237" y="352" width="5" height="2" fill="#1c1c1c"/><rect x="1246" y="351" width="1" height="1" fill="#2bc3d6"/><rect x="1246" y="354" width="1" height="3" fill="#2bc3d6"/><rect x="1244" y="352" width="5" height="2" fill="#089981"/><rect x="1254" y="340" width="1" height="1" fill="#2bc3d6"/><rect x="1254" y="352" width="1" height="4" fill="#2bc3d6"/><rect x="1252" y="341" width="5" height="11" fill="#089981"/><rect x="1253" y="342" width="3" height="9" fill="#2b2728"/><rect x="1262" y="327" width="1" height="11" fill="#2bc3d6"/><rect x="1260" y="338" width="5" height="4" fill="#089981"/><rect x="1261" y="339" width="3" height="2" fill="#2b2728"/><rect x="1270" y="337" width="1" height="1" fill="#1c44d4"/><rect x="1270" y="343" width="1" height="5" fill="#1c44d4"/><rect x="1268" y="338" width="5" height="5" fill="#1c1c1c"/><rect x="1269" y="339" width="3" height="3" fill="#f23645"/><rect x="1276" y="343" width="5" height="6" fill="#1c1c1c"/><rect x="1277" y="344" width="3" height="4" fill="#f23645"/><rect x="1285" y="346" width="1" height="2" fill="#2bc3d6"/><rect x="1285" y="349" width="1" height="1" fill="#2bc3d6"/><rect x="1283" y="348" width="5" height="1" fill="#089981"/><rect x="1293" y="345" width="1" height="3" fill="#1c44d4"/><rect x="1293" y="352" width="1" height="1" fill="#1c44d4"/><rect x="1291" y="348" width="5" height="4" fill="#1c1c1c"/><rect x="1292" y="349" width="3" height="2" fill="#f23645"/><rect x="1301" y="354" width="1" height="1" fill="#1c44d4"/><rect x="1299" y="351" width="5" height="3" fill="#1c1c1c"/><rect x="1300" y="352" width="3" height="1" fill="#f23645"/><rect x="1309" y="348" width="1" height="4" fill="#2bc3d6"/><rect x="1309" y="354" width="1" height="5" fill="#2bc3d6"/><rect x="1307" y="352" width="5" height="2" fill="#089981"/><rect x="1317" y="342" width="1" height="10" fill="#1c44d4"/><rect x="1315" y="352" width="5" height="7" fill="#1c1c1c"/><rect x="1316" y="353" width="3" height="5" fill="#f23645"/><rect x="1324" y="357" width="1" height="1" fill="#1c44d4"/><rect x="1324" y="367" width="1" height="2" fill="#1c44d4"/><rect x="1322" y="358" width="5" height="9" fill="#1c1c1c"/><rect x="1323" y="359" width="3" height="7" fill="#f23645"/><rect x="1332" y="363" width="1" height="3" fill="#2bc3d6"/><rect x="1330" y="366" width="5" height="2" fill="#089981"/><rect x="1340" y="363" width="1" height="2" fill="#2bc3d6"/><rect x="1340" y="366" width="1" height="1" fill="#2bc3d6"/><rect x="1338" y="365" width="5" height="1" fill="#089981"/><rect x="1348" y="364" width="1" height="1" fill="#1c44d4"/><rect x="1348" y="369" width="1" height="3" fill="#1c44d4"/><rect x="1346" y="365" width="5" height="4" fill="#1c1c1c"/><rect x="1347" y="366" width="3" height="2" fill="#f23645"/><rect x="1356" y="361" width="1" height="4" fill="#2bc3d6"/><rect x="1356" y="369" width="1" height="2" fill="#2bc3d6"/><rect x="1354" y="365" width="5" height="4" fill="#089981"/><rect x="1355" y="366" width="3" height="2" fill="#2b2728"/><rect x="1363" y="354" width="1" height="5" fill="#2bc3d6"/><rect x="1361" y="359" width="5" height="7" fill="#089981"/><rect x="1362" y="360" width="3" height="5" fill="#2b2728"/><rect x="1371" y="357" width="1" height="2" fill="#1c44d4"/><rect x="1371" y="360" width="1" height="4" fill="#1c44d4"/><rect x="1369" y="359" width="5" height="1" fill="#1c1c1c"/><rect x="1379" y="357" width="1" height="2" fill="#2bc3d6"/><rect x="1379" y="361" width="1" height="1" fill="#2bc3d6"/><rect x="1377" y="359" width="5" height="2" fill="#089981"/><rect x="1385" y="359" width="5" height="3" fill="#1c1c1c"/><rect x="1386" y="360" width="3" height="1" fill="#f23645"/></g></g><line x1="13" y1="361.5" x2="1426.0" y2="361.5" stroke="#f23645" stroke-width="1" stroke-dasharray="1 2" shape-rendering="crispEdges"/><g id="macd"><g shape-rendering="crispEdges"><rect x="13" y="612" width="4" height="13" fill="#ffcdd2"/><rect x="18" y="612" width="6" height="4" fill="#ffcdd2"/><rect x="25" y="609" width="7" height="4" fill="#26a69a"/><rect x="33" y="612" width="7" height="1" fill="#b2dfdb"/><rect x="41" y="612" width="7" height="15" fill="#ff5252"/><rect x="49" y="612" width="7" height="23" fill="#ff5252"/><rect x="57" y="612" width="6" height="27" fill="#ff5252"/><rect x="64" y="612" width="7" height="30" fill="#ff5252"/><rect x="72" y="612" width="7" height="34" fill="#ff5252"/><rect x="80" y="612" width="7" height="30" fill="#ffcdd2"/><rect x="88" y="612" width="7" height="26" fill="#ffcdd2"/><rect x="96" y="612" width="6" height="29" fill="#ff5252"/><rect x="103" y="612" width="7" height="24" fill="#ffcdd2"/><rect x="111" y="612" width="7" height="21" fill="#ffcdd2"/><rect x="119" y="612" width="7" height="20" fill="#ffcdd2"/><rect x="127" y="612" width="7" height="19" fill="#ffcdd2"/><rect x="135" y="612" width="7" height="16" fill="#ffcdd2"/><rect x="143" y="612" width="6" height="15" fill="#ffcdd2"/><rect x="150" y="612" width="7" height="13" fill="#ffcdd2"/><rect x="158" y="612" width="7" height="8" fill="#ffcdd2"/><rect x="166" y="612" width="7" height="7" fill="#ffcdd2"/><rect x="174" y="612" width="7" height="11" fill="#ff5252"/><rect x="182" y="612" width="6" height="9" fill="#ffcdd2"/><rect x="189" y="612" width="7" height="8" fill="#ffcdd2"/><rect x="197" y="612" width="7" height="1" fill="#ffcdd2"/><rect x="205" y="607" width="7" height="6" fill="#26a69a"/><rect x="213" y="603" width="7" height="10" fill="#26a69a"/><rect x="221" y="606" width="6" height="7" fill="#b2dfdb"/><rect x="228" y="612" width="7" height="6" fill="#ff5252"/><rect x="236" y="612" width="7" height="8" fill="#ff5252"/><rect x="244" y="612" width="7" height="8" fill="#ff5252"/><rect x="252" y="612" width="7" height="8" fill="#ffcdd2"/><rect x="260" y="612" width="6" height="4" fill="#ffcdd2"/><rect x="267" y="609" width="7" height="4" fill="#26a69a"/><rect x="275" y="604" width="7" height="9" fill="#26a69a"/><rect x="283" y="601" width="7" height="12" fill="#26a69a"/><rect x="291" y="603" width="7" height="10" fill="#b2dfdb"/><rect x="299" y="606" width="6" height="7" fill="#b2dfdb"/><rect x="306" y="611" width="7" height="2" fill="#b2dfdb"/><rect x="314" y="612" width="7" height="8" fill="#ff5252"/><rect x="322" y="612" width="7" height="16" fill="#ff5252"/><rect x="330" y="612" width="7" height="13" fill="#ffcdd2"/><rect x="338" y="612" width="7" height="8" fill="#ffcdd2"/><rect x="346" y="612" width="6" height="3" fill="#ffcdd2"/><rect x="353" y="612" width="7" height="1" fill="#ffcdd2"/><rect x="361" y="612" width="7" height="3" fill="#ff5252"/><rect x="369" y="612" width="7" height="11" fill="#ff5252"/><rect x="377" y="612" width="7" height="16" fill="#ff5252"/><rect x="385" y="612" width="6" height="20" fill="#ff5252"/><rect x="392" y="612" width="7" height="26" fill="#ff5252"/><rect x="400" y="612" width="7" height="33" fill="#ff5252"/><rect x="408" y="612" width="7" height="31" fill="#ffcdd2"/><rect x="416" y="612" width="7" height="24" fill="#ffcdd2"/><rect x="424" y="612" width="6" height="17" fill="#ffcdd2"/><rect x="431" y="612" width="7" height="11" fill="#ffcdd2"/><rect x="439" y="612" width="7" height="5" fill="#ffcdd2"/><rect x="447" y="612" width="7" height="4" fill="#ffcdd2"/><rect x="455" y="612" width="7" height="1" fill="#26a69a"/><rect x="463" y="609" width="6" height="4" fill="#26a69a"/><rect x="470" y="604" width="7" height="9" fill="#26a69a"/><rect x="478" y="593" width="7" height="20" fill="#26a69a"/><rect x="486" y="586" width="7" height="27" fill="#26a69a"/><rect x="494" y="582" width="7" height="31" fill="#26a69a"/><rect x="502" y="577" width="6" height="36" fill="#26a69a"/><rect x="509" y="573" width="7" height="40" fill="#26a69a"/><rect x="517" y="575" width="7" height="38" fill="#b2dfdb"/><rect x="525" y="574" width="7" height="39" fill="#26a69a"/><rect x="533" y="577" width="7" height="36" fill="#b2dfdb"/><rect x="541" y="581" width="7" height="32" fill="#b2dfdb"/><rect x="549" y="582" width="6" height="31" fill="#b2dfdb"/><rect x="556" y="569" width="7" height="44" fill="#26a69a"/><rect x="564" y="564" width="7" height="49" fill="#26a69a"/><rect x="572" y="561" width="7" height="52" fill="#26a69a"/><rect x="580" y="565" width="7" height="48" fill="#b2dfdb"/><rect x="588" y="573" width="6" height="40" fill="#b2dfdb"/><rect x="595" y="580" width="7" height="33" fill="#b2dfdb"/><rect x="603" y="589" width="7" height="24" fill="#b2dfdb"/><rect x="611" y="593" width="7" height="20" fill="#b2dfdb"/><rect x="619" y="599" width="7" height="14" fill="#b2dfdb"/><rect x="627" y="602" width="6" height="11" fill="#b2dfdb"/><rect x="634" y="607" width="7" height="6" fill="#b2dfdb"/><rect x="642" y="612" width="7" height="1" fill="#b2dfdb"/><rect x="650" y="609" width="7" height="4" fill="#26a69a"/><rect x="658" y="609" width="7" height="4" fill="#26a69a"/><rect x="666" y="611" width="6" height="2" fill="#b2dfdb"/><rect x="673" y="612" width="7" height="2" fill="#ff5252"/><rect x="681" y="612" width="7" height="6" fill="#ff5252"/><rect x="689" y="612" width="7" height="7" fill="#ff5252"/><rect x="697" y="612" width="7" height="6" fill="#ffcdd2"/><rect x="705" y="612" width="6" height="8" fill="#ff5252"/><rect x="712" y="612" width="7" height="10" fill="#ff5252"/><rect x="720" y="612" width="7" height="11" fill="#ff5252"/><rect x="728" y="612" width="7" height="11" fill="#ff5252"/><rect x="736" y="612" width="7" height="7" fill="#ffcdd2"/><rect x="744" y="612" width="7" height="9" fill="#ff5252"/><rect x="752" y="612" width="6" height="12" fill="#ff5252"/><rect x="759" y="612" width="7" height="13" fill="#ff5252"/><rect x="767" y="612" width="7" height="14" fill="#ff5252"/><rect x="775" y="612" width="7" height="11" fill="#ffcdd2"/><rect x="783" y="612" width="7" height="8" fill="#ffcdd2"/><rect x="791" y="612" width="6" height="8" fill="#ff5252"/><rect x="798" y="612" width="7" height="8" fill="#ffcdd2"/><rect x="806" y="612" width="7" height="7" fill="#ffcdd2"/><rect x="814" y="612" width="7" height="7" fill="#ff5252"/><rect x="822" y="612" width="7" height="8" fill="#ff5252"/><rect x="830" y="612" width="6" height="8" fill="#ffcdd2"/><rect x="837" y="612" width="7" height="7" fill="#ffcdd2"/><rect x="845" y="612" width="7" height="11" fill="#ff5252"/><rect x="853" y="612" width="7" height="24" fill="#ff5252"/><rect x="861" y="612" width="7" height="30" fill="#ff5252"/><rect x="869" y="612" width="6" height="35" fill="#ff5252"/><rect x="876" y="612" width="7" height="38" fill="#ff5252"/><rect x="884" y="612" width="7" height="40" fill="#ff5252"/><rect x="892" y="612" width="7" height="35" fill="#ffcdd2"/><rect x="900" y="612" width="7" height="31" fill="#ffcdd2"/><rect x="908" y="612" width="6" height="27" fill="#ffcdd2"/><rect x="915" y="612" width="7" height="20" fill="#ffcdd2"/><rect x="923" y="612" width="7" height="3" fill="#ffcdd2"/><rect x="931" y="601" width="7" height="12" fill="#26a69a"/><rect x="939" y="594" width="7" height="19" fill="#26a69a"/><rect x="947" y="589" width="7" height="24" fill="#26a69a"/><rect x="955" y="585" width="6" height="28" fill="#26a69a"/><rect x="962" y="585" width="7" height="28" fill="#b2dfdb"/><rect x="970" y="587" width="7" height="26" fill="#b2dfdb"/><rect x="978" y="587" width="7" height="26" fill="#b2dfdb"/><rect x="986" y="588" width="7" height="25" fill="#b2dfdb"/><rect x="994" y="590" width="6" height="23" fill="#b2dfdb"/><rect x="1001" y="594" width="7" height="19" fill="#b2dfdb"/><rect x="1009" y="600" width="7" height="13" fill="#b2dfdb"/><rect x="1017" y="604" width="7" height="9" fill="#b2dfdb"/><rect x="1025" y="612" width="7" height="2" fill="#ff5252"/><rect x="1033" y="612" width="6" height="8" fill="#ff5252"/><rect x="1040" y="612" width="7" height="12" fill="#ff5252"/><rect x="1048" y="612" width="7" height="13" fill="#ff5252"/><rect x="1056" y="612" width="7" height="16" fill="#ff5252"/><rect x="1064" y="612" width="7" height="16" fill="#ff5252"/><rect x="1072" y="612" width="6" height="20" fill="#ff5252"/><rect x="1079" y="612" width="7" height="21" fill="#ff5252"/><rect x="1087" y="612" width="7" height="20" fill="#ffcdd2"/><rect x="1095" y="612" width="7" height="19" fill="#ffcdd2"/><rect x="1103" y="612" width="7" height="17" fill="#ffcdd2"/><rect x="1111" y="612" width="6" height="15" fill="#ffcdd2"/><rect x="1118" y="612" width="7" height="13" fill="#ffcdd2"/><rect x="1126" y="612" width="7" height="11" fill="#ffcdd2"/><rect x="1134" y="612" width="7" height="4" fill="#ffcdd2"/><rect x="1142" y="612" width="7" height="4" fill="#ffcdd2"/><rect x="1150" y="612" width="7" height="2" fill="#ffcdd2"/><rect x="1158" y="610" width="6" height="3" fill="#26a69a"/><rect x="1165" y="605" width="7" height="8" fill="#26a69a"/><rect x="1173" y="605" width="7" height="8" fill="#b2dfdb"/><rect x="1181" y="603" width="7" height="10" fill="#26a69a"/><rect x="1189" y="601" width="7" height="12" fill="#26a69a"/><rect x="1197" y="599" width="6" height="14" fill="#26a69a"/><rect x="1204" y="600" width="7" height="13" fill="#b2dfdb"/><rect x="1212" y="600" width="7" height="13" fill="#b2dfdb"/><rect x="1220" y="602" width="7" height="11" fill="#b2dfdb"/><rect x="1228" y="603" width="7" height="10" fill="#b2dfdb"/><rect x="1236" y="605" width="6" height="8" fill="#b2dfdb"/><rect x="1243" y="606" width="7" height="7" fill="#b2dfdb"/><rect x="1251" y="602" width="7" height="11" fill="#26a69a"/><rect x="1259" y="598" width="7" height="15" fill="#26a69a"/><rect x="1267" y="599" width="7" height="14" fill="#b2dfdb"/><rect x="1275" y="604" width="6" height="9" fill="#b2dfdb"/><rect x="1282" y="606" width="7" height="7" fill="#b2dfdb"/><rect x="1290" y="609" width="7" height="4" fill="#b2dfdb"/><rect x="1298" y="611" width="7" height="2" fill="#b2dfdb"/><rect x="1306" y="612" width="7" height="2" fill="#ff5252"/><rect x="1314" y="612" width="6" height="6" fill="#ff5252"/><rect x="1321" y="612" width="7" height="12" fill="#ff5252"/><rect x="1329" y="612" width="7" height="15" fill="#ff5252"/><rect x="1337" y="612" width="7" height="15" fill="#ff5252"/><rect x="1345" y="612" width="7" height="16" fill="#ff5252"/><rect x="1353" y="612" width="6" height="14" fill="#ffcdd2"/><rect x="1360" y="612" width="7" height="10" fill="#ffcdd2"/><rect x="1368" y="612" width="7" height="7" fill="#ffcdd2"/><rect x="1376" y="612" width="7" height="4" fill="#ffcdd2"/><rect x="1384" y="612" width="7" height="2" fill="#ffcdd2"/></g><line x1="13.3" y1="612.5" x2="1426" y2="612.5" stroke="#9c9fa8" stroke-width="1" stroke-dasharray="4.7 6.48"/><clipPath id="mc"><rect x="13" y="517" width="1412" height="241"/></clipPath><polyline points="13.5,593.33 21.5,585.73 28.5,578.13 36.5,580.89 44.5,598.17 52.5,611.3 60.5,623.05 67.5,631.34 75.5,644.47 83.5,647.93 91.5,650.69 99.5,660.37 106.5,661.48 114.5,662.72 122.5,667.28 130.5,669.63 138.5,671.15 146.5,673.91 153.5,673.91 161.5,670.74 169.5,671.7 177.5,678.34 185.5,678.75 192.5,678.34 200.5,671.43 208.5,664.8 216.5,658.58 224.5,661.07 231.5,672.4 239.5,676.27 247.5,678.62 255.5,679.59 263.5,677.24 270.5,669.64 278.5,662.45 286.5,657.61 294.5,656.92 302.5,658.3 309.5,663.42 317.5,673.78 325.5,685.26 333.5,684.84 341.5,680.69 349.5,676.55 356.5,675.44 364.5,677.24 372.5,688.3 380.5,696.61 388.5,703.75 395.5,717.68 403.5,731.96 411.5,737.32 419.5,735.18 427.5,732.32 434.5,728.75 442.5,724.46 450.5,723.57 458.5,720.36 466.5,717.14 473.5,710.54 481.5,692.75 489.5,681.53 497.5,669.55 505.5,655.33 512.5,641.56 520.5,635.12 528.5,624.64 536.5,618.2 544.5,614.16 552.5,607.43 559.5,583.47 567.5,564.55 575.5,550.73 583.5,543.82 591.5,540.78 598.5,540.78 606.5,543.55 614.5,542.44 622.5,545.62 630.5,545.62 637.5,550.73 645.5,554.88 653.5,551.42 661.5,550.46 669.5,552.11 676.5,554.6 684.5,559.03 692.5,561.59 700.5,561.59 708.5,566.01 715.5,570.29 723.5,573.33 731.5,576.38 739.5,572.92 747.5,577.48 755.5,583.01 762.5,586.74 770.5,590.89 778.5,590.34 786.5,589.23 794.5,591.72 801.5,592.96 809.5,593.1 817.5,594.76 825.5,597.52 833.5,598.9 840.5,599.6 848.5,605.82 856.5,624.47 864.5,638.99 872.5,649.64 879.5,663.46 887.5,675.21 895.5,678.66 903.5,681.7 911.5,684.47 918.5,682.81 926.5,664.84 934.5,650.33 942.5,639.27 950.5,628.21 958.5,616.47 965.5,610.66 973.5,606.1 981.5,600.16 989.5,594.35 997.5,590.2 1004.5,590.2 1012.5,592.97 1020.5,595.73 1028.5,604.72 1036.5,611.63 1043.5,618.54 1051.5,623.39 1059.5,629.31 1067.5,633.25 1075.5,641.14 1082.5,647.46 1090.5,651.66 1098.5,655.21 1106.5,657.05 1114.5,658.63 1121.5,659.82 1129.5,659.29 1137.5,653.9 1145.5,653.9 1153.5,653.11 1161.5,649.43 1168.5,641.54 1176.5,640.88 1184.5,635.88 1192.5,631.02 1200.5,625.76 1207.5,623.39 1215.5,621.16 1223.5,620.11 1231.5,619.45 1239.5,619.71 1246.5,619.05 1254.5,612.22 1262.5,604.98 1270.5,603.27 1278.5,603.93 1285.5,604.98 1293.5,607.35 1301.5,610.51 1309.5,612.87 1317.5,618.13 1324.5,626.02 1332.5,632.2 1340.5,636.54 1348.5,640.75 1356.5,642.2 1363.5,639.83 1371.5,637.86 1379.5,635.62 1387.5,634.83" fill="none" stroke="#2962ff" stroke-width="1.4" stroke-linejoin="round" clip-path="url(#mc)"/><polyline points="13.5,581.31 21.5,581.86 28.5,581.59 36.5,581.31 44.5,584.35 52.5,589.88 60.5,596.79 67.5,603.01 75.5,611.99 83.5,619.18 91.5,625.12 99.5,632.04 106.5,638.26 114.5,643.09 122.5,647.93 130.5,652.35 138.5,655.81 146.5,659.26 153.5,662.17 161.5,663.83 169.5,665.21 177.5,667.97 185.5,670.32 192.5,671.7 200.5,671.02 208.5,669.64 216.5,667.84 224.5,666.6 231.5,667.84 239.5,669.64 247.5,671.71 255.5,673.37 263.5,674.06 270.5,673.09 278.5,671.02 286.5,668.26 294.5,666.18 302.5,664.52 309.5,664.38 317.5,666.18 325.5,670.05 333.5,672.82 341.5,674.47 349.5,674.89 356.5,674.89 364.5,675.44 372.5,677.93 380.5,681.61 388.5,686.43 395.5,693.57 403.5,701.61 411.5,708.21 419.5,713.21 427.5,716.43 434.5,719.11 442.5,720.18 450.5,720.89 458.5,721.25 466.5,720.36 473.5,718.21 481.5,713.75 489.5,707.86 497.5,699.04 505.5,689.01 512.5,680.03 520.5,671.8 528.5,662.51 536.5,653.08 544.5,644.85 552.5,638.11 559.5,624.64 567.5,612.66 575.5,601.18 583.5,590.82 591.5,581.14 598.5,572.85 606.5,566.63 614.5,562.48 622.5,559.03 630.5,556.26 637.5,554.88 645.5,554.88 653.5,554.19 661.5,553.5 669.5,553.08 676.5,553.5 684.5,554.88 692.5,556.06 700.5,557.44 708.5,558.82 715.5,561.17 723.5,563.66 731.5,566.15 739.5,567.81 747.5,569.6 755.5,572.64 762.5,575.41 770.5,578.45 778.5,580.52 786.5,582.32 794.5,584.39 801.5,586.05 809.5,587.43 817.5,588.95 825.5,590.89 833.5,592.41 840.5,593.65 848.5,596.42 856.5,602.36 864.5,609.27 872.5,615.5 879.5,625.45 887.5,635.82 895.5,644.8 903.5,651.71 911.5,658.34 918.5,663.46 926.5,663.74 934.5,661.39 942.5,657.24 950.5,651.02 958.5,644.11 965.5,637.89 973.5,630.29 981.5,623.38 989.5,617.16 997.5,611.63 1004.5,608.17 1012.5,605.41 1020.5,603.33 1028.5,603.61 1036.5,604.72 1043.5,607.07 1051.5,611.16 1059.5,614.45 1067.5,618.4 1075.5,623 1082.5,628.65 1090.5,633.52 1098.5,637.86 1106.5,641.8 1114.5,645.35 1121.5,648.11 1129.5,650.09 1137.5,650.74 1145.5,651.4 1153.5,651.66 1161.5,651.27 1168.5,649.3 1176.5,647.46 1184.5,645.09 1192.5,642.46 1200.5,639.17 1207.5,635.88 1215.5,632.99 1223.5,630.62 1231.5,628.39 1239.5,626.42 1246.5,624.71 1254.5,622.34 1262.5,618.79 1270.5,615.5 1278.5,613.27 1285.5,611.95 1293.5,611.16 1301.5,611.16 1309.5,611.56 1317.5,612.87 1324.5,615.77 1332.5,619.45 1340.5,622.74 1348.5,626.29 1356.5,629.05 1363.5,631.28 1371.5,632.6 1379.5,633.25 1387.5,633.65" fill="none" stroke="#ff6d00" stroke-width="1.4" stroke-linejoin="round" clip-path="url(#mc)"/></g><rect x="1371" y="146" width="17" height="212" fill="#3058eb" fill-opacity="0.15" shape-rendering="crispEdges"/><rect x="1377" y="146" width="2.2" height="212" fill="#02261c"/><polyline points="1365.4,158.6 1378.2,145.8 1391,158.6" fill="none" stroke="#02261c" stroke-width="2.2" stroke-linecap="round" stroke-linejoin="miter"/><line x1="1370.6" y1="357.9" x2="1387.8" y2="357.9" stroke="#02261c" stroke-width="1.6"/><clipPath id="tc"><rect x="1280" y="90" width="146" height="60"/></clipPath><filter id="sh" x="-10%" y="-30%" width="120%" height="170%"><feDropShadow dx="0" dy="1.5" stdDeviation="2" flood-color="#000" flood-opacity="0.18"/></filter><g clip-path="url(#tc)"><rect x="1294" y="102.1" width="150" height="30.8" rx="4.5" fill="#fff" filter="url(#sh)"/><text x="1304.6" y="121.7" font-size="15" fill="#141414" textLength="146" lengthAdjust="spacingAndGlyphs">0.9557 (46.81%) 9,557</text></g><g id="bolt"><circle cx="1387.5" cy="499.2" r="14.6" fill="#fff"/><circle cx="1387.5" cy="499.2" r="12.5" fill="none" stroke="#9c27b0" stroke-width="1.6"/><path d="M1390.8 492.8 L1381.4 500.3 L1387.6 500.3 L1383.4 506.4 L1393.6 498.3 L1388.7 498.3 Z" fill="#9c27b0"/><circle cx="1396.1" cy="490.8" r="5.4" fill="#fff"/><circle cx="1396.1" cy="490.8" r="3.2" fill="#f23645"/></g><text x="1437.6" y="61" font-size="14.6" fill="#141414" textLength="44.6" lengthAdjust="spacingAndGlyphs">3.4000</text><text x="1437.6" y="105" font-size="14.6" fill="#141414" textLength="44.6" lengthAdjust="spacingAndGlyphs">3.2000</text><text x="1437.6" y="194.2" font-size="14.6" fill="#141414" textLength="44.6" lengthAdjust="spacingAndGlyphs">2.8000</text><text x="1437.6" y="239" font-size="14.6" fill="#141414" textLength="44.6" lengthAdjust="spacingAndGlyphs">2.6000</text><text x="1437.6" y="282.9" font-size="14.6" fill="#141414" textLength="44.6" lengthAdjust="spacingAndGlyphs">2.4000</text><text x="1437.6" y="417.1" font-size="14.6" fill="#141414" textLength="44.6" lengthAdjust="spacingAndGlyphs">1.8000</text><text x="1437.6" y="461" font-size="14.6" fill="#141414" textLength="44.6" lengthAdjust="spacingAndGlyphs">1.6000</text><text x="1437.2" y="537.9" font-size="14.6" fill="#141414" textLength="45.6" lengthAdjust="spacingAndGlyphs">0.0500</text><text x="1438" y="696" font-size="14.6" fill="#141414" textLength="52.3" lengthAdjust="spacingAndGlyphs">−0.0500</text><path d="M1427 135.3 H1486.5 Q1488.5 135.3 1488.5 137.3 V153.6 Q1488.5 155.6 1486.5 155.6 H1427 Z" fill="#2e2e2e"/><text x="1437.9" y="150.35" font-size="14.6" fill="#fff" textLength="45.2" lengthAdjust="spacingAndGlyphs" stroke="#fff" stroke-width="0.35">3.0000</text><path d="M1427 246.1 H1486.5 Q1488.5 246.1 1488.5 248.1 V264.6 Q1488.5 266.6 1486.5 266.6 H1427 Z" fill="#2e2e2e"/><text x="1437.9" y="261.25" font-size="14.6" fill="#fff" textLength="45.2" lengthAdjust="spacingAndGlyphs" stroke="#fff" stroke-width="0.35">2.5000</text><path d="M1427 313.2 H1486.5 Q1488.5 313.2 1488.5 315.2 V331.8 Q1488.5 333.8 1486.5 333.8 H1427 Z" fill="#2e2e2e"/><text x="1437.9" y="328.4" font-size="14.6" fill="#fff" textLength="45.2" lengthAdjust="spacingAndGlyphs" stroke="#fff" stroke-width="0.35">2.2000</text><path d="M1427 390.1 H1486.5 Q1488.5 390.1 1488.5 392.1 V408.7 Q1488.5 410.7 1486.5 410.7 H1427 Z" fill="#2e2e2e"/><text x="1437.9" y="405.3" font-size="14.6" fill="#fff" textLength="45.2" lengthAdjust="spacingAndGlyphs" stroke="#fff" stroke-width="0.35">2.0000</text><path d="M1427 351 H1500.9 Q1502.9 351 1502.9 353 V387.7 Q1502.9 389.7 1500.9 389.7 H1427 Z" fill="#f23645"/><text x="1437.9" y="366.4" font-size="14.6" fill="#fff" textLength="45.2" lengthAdjust="spacingAndGlyphs" stroke="#fff" stroke-width="0.35">2.0280</text><text x="1437.9" y="384.6" font-size="14.6" fill="#fff" textLength="58.6" lengthAdjust="spacingAndGlyphs" fill-opacity="0.8" stroke="#fff" stroke-width="0.3" stroke-opacity="0.7">02:56:18</text><path d="M1427 494.8 H1483.7 Q1485.7 494.8 1485.7 496.8 V513.9 Q1485.7 515.9 1483.7 515.9 H1427 Z" fill="#ef5350"/><text x="1437.9" y="510.2" font-size="14.6" fill="#fff" textLength="41.5" lengthAdjust="spacingAndGlyphs" stroke="#fff" stroke-width="0.35">1.45 M</text><path d="M1427 603.1 H1496 Q1498 603.1 1498 605.1 V622.2 Q1498 624.2 1496 624.2 H1427 Z" fill="#ffcdd2"/><text x="1438" y="618.5" font-size="14.6" fill="#141414" textLength="52.3" lengthAdjust="spacingAndGlyphs">−0.0008</text><path d="M1427 624.6 H1496 Q1498 624.6 1498 626.6 V643.8 Q1498 645.8 1496 645.8 H1427 Z" fill="#ff6d00"/><text x="1438" y="640.1" font-size="14.6" fill="#fff" textLength="52.3" lengthAdjust="spacingAndGlyphs" stroke="#fff" stroke-width="0.35">−0.0136</text><path d="M1427 645.8 H1496 Q1498 645.8 1498 647.8 V664.9 Q1498 666.9 1496 666.9 H1427 Z" fill="#2962ff"/><text x="1438" y="661.2" font-size="14.6" fill="#fff" textLength="52.3" lengthAdjust="spacingAndGlyphs" stroke="#fff" stroke-width="0.35">−0.0144</text><clipPath id="xc"><rect x="14" y="758" width="1493" height="34"/></clipPath><g clip-path="url(#xc)"><text x="13.5" y="781" font-size="14.6" fill="#141414" textLength="14.1" lengthAdjust="spacingAndGlyphs" text-anchor="middle">13</text><text x="106.5" y="781" font-size="14.6" fill="#141414" textLength="14.1" lengthAdjust="spacingAndGlyphs" text-anchor="middle">15</text><text x="200.5" y="781" font-size="14.6" fill="#141414" textLength="14.1" lengthAdjust="spacingAndGlyphs" text-anchor="middle">17</text><text x="294.5" y="781" font-size="14.6" fill="#141414" textLength="14.1" lengthAdjust="spacingAndGlyphs" text-anchor="middle">19</text><text x="388.5" y="781" font-size="14.6" fill="#141414" textLength="14.1" lengthAdjust="spacingAndGlyphs" text-anchor="middle">21</text><text x="481.5" y="781" font-size="14.6" fill="#141414" textLength="14.1" lengthAdjust="spacingAndGlyphs" text-anchor="middle">23</text><text x="575.5" y="781" font-size="14.6" fill="#141414" textLength="14.1" lengthAdjust="spacingAndGlyphs" text-anchor="middle">25</text><text x="669.5" y="781" font-size="14.6" fill="#141414" textLength="14.1" lengthAdjust="spacingAndGlyphs" text-anchor="middle">27</text><text x="762.5" y="781" font-size="14.6" fill="#141414" textLength="14.1" lengthAdjust="spacingAndGlyphs" text-anchor="middle">29</text><text x="856.5" y="781" font-size="14.6" fill="#141414" textLength="25" lengthAdjust="spacingAndGlyphs" text-anchor="middle" font-weight="bold">Dec</text><text x="950.5" y="781" font-size="14.6" fill="#141414" textLength="6.6" lengthAdjust="spacingAndGlyphs" text-anchor="middle">3</text><text x="1043.5" y="781" font-size="14.6" fill="#141414" textLength="6.6" lengthAdjust="spacingAndGlyphs" text-anchor="middle">5</text><text x="1137.5" y="781" font-size="14.6" fill="#141414" textLength="6.6" lengthAdjust="spacingAndGlyphs" text-anchor="middle">7</text><text x="1231.5" y="781" font-size="14.6" fill="#141414" textLength="6.6" lengthAdjust="spacingAndGlyphs" text-anchor="middle">9</text><text x="1324.5" y="781" font-size="14.6" fill="#141414" textLength="14.1" lengthAdjust="spacingAndGlyphs" text-anchor="middle">11</text><text x="1418.5" y="781" font-size="14.6" fill="#141414" textLength="14.1" lengthAdjust="spacingAndGlyphs" text-anchor="middle">13</text></g><text y="25.1" font-size="15.5" fill="#141414"><tspan x="12.8" textLength="82.8" lengthAdjust="spacingAndGlyphs">bevahmutha</tspan> <tspan x="100.4" textLength="50.8" lengthAdjust="spacingAndGlyphs">created</tspan> <tspan x="156.1" textLength="29" lengthAdjust="spacingAndGlyphs">with</tspan> <tspan x="190.4" textLength="116.1" lengthAdjust="spacingAndGlyphs">TradingView.com,</tspan> <tspan x="313.4" textLength="27.1" lengthAdjust="spacingAndGlyphs">Dec</tspan> <tspan x="344.4" textLength="23.1" lengthAdjust="spacingAndGlyphs">12,</tspan> <tspan x="371.9" textLength="31.6" lengthAdjust="spacingAndGlyphs">2025</tspan> <tspan x="408.4" textLength="34.1" lengthAdjust="spacingAndGlyphs">09:03</tspan> <tspan x="445.9" textLength="28.1" lengthAdjust="spacingAndGlyphs">UTC</tspan></text><text y="58.8" font-size="15.5" fill="#141414"><tspan x="22.5" textLength="24.7" lengthAdjust="spacingAndGlyphs">XRP</tspan> <tspan x="55.7">/</tspan> <tspan x="65.3" textLength="60.6" lengthAdjust="spacingAndGlyphs">TetherUS</tspan> <tspan x="129.62">·</tspan> <tspan x="139.3" textLength="16.9" lengthAdjust="spacingAndGlyphs">4h</tspan> <tspan x="160.22">·</tspan> <tspan x="170.2" textLength="52.7" lengthAdjust="spacingAndGlyphs">Binance</tspan> <tspan x="232" textLength="55" lengthAdjust="spacingAndGlyphs">O2.0373</tspan> <tspan x="296.1" textLength="55" lengthAdjust="spacingAndGlyphs">H2.0380</tspan> <tspan x="360.4" textLength="52" lengthAdjust="spacingAndGlyphs">L2.0266</tspan> <tspan x="421.2" textLength="54.2" lengthAdjust="spacingAndGlyphs">C2.0280</tspan> <tspan x="484.8" textLength="52.2" lengthAdjust="spacingAndGlyphs">−0.0093</tspan> <tspan x="542.8" textLength="55.5" lengthAdjust="spacingAndGlyphs">(−0.46%)</tspan></text><text y="79.8" font-size="15.5" fill="#141414"><tspan x="22.5" textLength="20.1" lengthAdjust="spacingAndGlyphs">Vol</tspan> <tspan x="47.02">·</tspan> <tspan x="57.9" textLength="25.1" lengthAdjust="spacingAndGlyphs">XRP</tspan> <tspan x="92" textLength="28.4" lengthAdjust="spacingAndGlyphs" fill="#ef5350">1.45</tspan> <tspan x="123.5" textLength="11.2" lengthAdjust="spacingAndGlyphs" fill="#ef5350">M</tspan></text><text y="542" font-size="15.5" fill="#141414"><tspan x="22.4" textLength="38.1" lengthAdjust="spacingAndGlyphs">MACD</tspan> <tspan x="65.65" textLength="23.6" lengthAdjust="spacingAndGlyphs">(12,</tspan> <tspan x="95.65" textLength="19.35" lengthAdjust="spacingAndGlyphs">26,</tspan> <tspan x="121.4" textLength="40.35" lengthAdjust="spacingAndGlyphs">close)</tspan> <tspan x="171.4" textLength="52.6" lengthAdjust="spacingAndGlyphs" fill="#ffcdd2">−0.0008</tspan> <tspan x="232.9" textLength="52.6" lengthAdjust="spacingAndGlyphs" fill="#2962ff">−0.0144</tspan> <tspan x="294.9" textLength="52.6" lengthAdjust="spacingAndGlyphs" fill="#ff6d00">−0.0136</tspan></text><g id="logo" fill="#0f0f0f"><path d="M15.35 820.35 H30.6 V839 H23 V827.8 H15.35 Z"/><circle cx="36.8" cy="824.15" r="3.75"/><path d="M44.4 820.35 H52.9 L45.6 839 H37 Z"/></g><text x="62" y="838.8" font-size="26" fill="#0f0f0f" textLength="151" lengthAdjust="spacingAndGlyphs" font-weight="bold" letter-spacing="0">TradingView</text>
</svg></body></html>
